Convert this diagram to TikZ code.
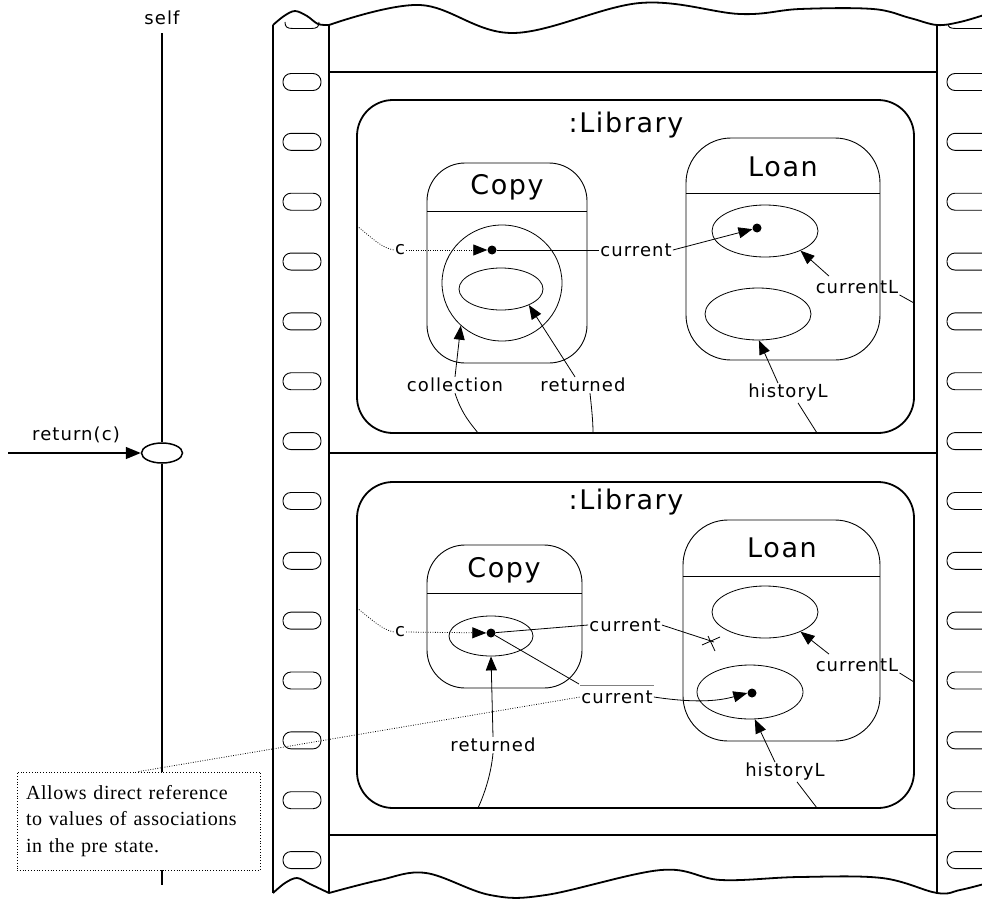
\documentclass[tikz,border=0pt]{standalone}
\usepackage{fontspec}
\usetikzlibrary{arrows.meta,shapes.geometric,calc}
\newfontfamily\hand{DejaVu Sans}[LetterSpace=6]
\newfontfamily\notefont{Liberation Serif}[LetterSpace=3]
\begin{document}
\begin{tikzpicture}[x=1pt,y=-1pt,
  lbl/.style={font=\hand\fontsize{18}{21}\selectfont, inner sep=1pt},
  ttl/.style={font=\hand\fontsize{27}{30}\selectfont, inner sep=0pt},
  ell/.style={draw, ellipse, line width=0.8pt, inner sep=0pt},
  dotn/.style={circle, fill, inner sep=0pt, minimum size=9pt},
  arr/.style={line width=0.8pt, -{Triangle[length=14pt,width=11pt]}},
  thinl/.style={line width=0.8pt},
  dots/.style={line width=0.8pt, dash pattern=on 0.8pt off 1.6pt},
  film/.style={line width=1.8pt},
  libbox/.style={draw, line width=1.8pt, rounded corners=36pt, inner sep=0pt},
  clsbox/.style={draw, line width=0.9pt, rounded corners=38pt, inner sep=0pt},
  hole/.style={line width=0.9pt, rounded corners=8pt}]
\useasboundingbox (0,0) rectangle (982,899);

% ---------- film strip ----------
\draw[film] (273,25) -- (273,893);
\draw[film] (329,25) -- (329,893);
\draw[film] (937,25) -- (937,893);
\draw[film] (329,72) -- (937,72);
\draw[film] (329,453) -- (937,453);
\draw[film] (329,835) -- (937,835);
\draw[film] plot[smooth, tension=0.55] coordinates {(273,25)(284,16)(295,11)(307,16)(318,24)(329,25)};
\draw[film] plot[smooth, tension=0.6] coordinates {(329,25)(420,5)(513,33)(640,3)(740,14)(800,9)(873,9)(910,18)(937,25)(960,22)(984,15)};
\draw[film] plot[smooth, tension=0.55] coordinates {(273,893)(285,883)(297,878)(310,884)(329,893)};
\draw[film] plot[smooth, tension=0.6] coordinates {(329,893)(380,880)(426,873)(490,895)(546,895)(661,870)(721,880)(799,877)(882,878)(937,893)(960,890)(984,884)};
\foreach \k in {0,...,13}{
  \draw[hole] (283,{82+59.85*\k-8.5}) rectangle (321,{82+59.85*\k+8.5});
  \draw[hole] (947,{82+59.85*\k-8.5}) rectangle (995,{82+59.85*\k+8.5});
}
\draw[line width=0.9pt] (285,22) .. controls (285,27) and (287,28.5) .. (293,28.5) -- (311,28.5) .. controls (317,28.5) and (319,27) .. (319,22);
\draw[line width=0.9pt] (948,24) .. controls (948,27) and (950,28.5) .. (956,28.5) -- (982,28.5);

% ---------- lifeline ----------
\node[lbl] (self) at (162,18) {self};
\node[ell, line width=1.5pt, minimum width=41pt, minimum height=20pt] (retc) at (162,453) {};
\coordinate (lifeend) at (162,885);
\coordinate (callstart) at (8,453);
\draw[line width=1.5pt] ([yshift=-7pt]self.south) -- (retc.north);
\draw[line width=1.5pt] (retc.south) -- (lifeend);
\draw[line width=1.5pt, -{Triangle[length=15pt,width=12pt]}] (callstart) -- (retc.west);
\node[lbl] (retlbl) at (76,435) {return(c)};

\node[draw, dotted, fill=white, line width=0.8pt, minimum width=243pt, minimum height=98pt,
      text width=225pt, inner xsep=9pt, align=left,
      font=\notefont\fontsize{20}{26.5}\selectfont] (note) at (138.5,821)
      {Allows direct reference\\to values of associations\\in the pre state.};

% ---------- top frame ----------
\node[libbox, minimum width=557pt, minimum height=333pt] (lib1) at (635.5,266.5) {};
\node[ttl] (libt1) at (626,125) {:Library};
\node[clsbox, minimum width=160pt, minimum height=200pt] (copy1) at (507,263) {};
\draw[thinl] (427,211) -- (587,211);
\node[ttl] (copyt1) at (507,187) {Copy};
\node[ell, minimum width=120pt, minimum height=116pt] (coll1e) at (502,283) {};
\node[ell, minimum width=84pt, minimum height=42pt] (ret1e) at (501,289) {};
\node[dotn] (dot1) at (492,250) {};
\node[clsbox, rounded corners=45pt, minimum width=194pt, minimum height=222pt] (loan1) at (783,249) {};
\draw[thinl] (686,193) -- (880,193);
\node[ttl] (loant1) at (783,167) {Loan};
\node[ell, minimum width=106pt, minimum height=52pt] (lc1e) at (765,231) {};
\node[dotn] (ldot1) at (757,228) {};
\node[ell, minimum width=106pt, minimum height=52pt] (lh1e) at (758,314) {};

\node[lbl] (c1) at (400,250) {c};
\node[lbl] (cur1) at (636,250) {current};
\node[lbl] (curL1) at (857,287) {currentL};
\node[lbl] (histL1) at (788,393) {historyL};
\node[lbl] (coll1) at (455,385) {collection};
\node[lbl] (ret1) at (583,385) {returned};

\coordinate (cin1) at (357,226);
\draw[dots] (cin1) .. controls (370,236) and (381,248) .. (c1.west);
\draw[dots, arr] (c1.east) -- (dot1);
\draw[thinl] (dot1) -- (cur1.west);
\draw[arr] (cur1.east) -- (ldot1);
\draw[arr] (coll1.north) -- (coll1e.226);
\draw[arr] ([xshift=-8pt]ret1.north) -- (ret1e.330);
\draw[arr] ([xshift=-28pt,yshift=3pt]curL1.north) -- (lc1e.331);
\draw[arr] ([xshift=-10pt]histL1.north) -- (lh1e.272);
\coordinate (e1a) at (914,303);
\coordinate (e1b) at (817,433);
\coordinate (e1c) at (478,433);
\coordinate (e1d) at (593,433);
\draw[thinl] (curL1.south east) -- (e1a);
\draw[thinl] ([xshift=10pt]histL1.south) -- (e1b);
\draw[thinl] (coll1.south) .. controls (462,415) and (472,425) .. (e1c);
\draw[thinl] ([xshift=7pt]ret1.south) .. controls (592,412) and (593,422) .. (e1d);

% ---------- bottom frame ----------
\node[libbox, minimum width=557pt, minimum height=326pt] (lib2) at (635.5,645) {};
\node[ttl] (libt2) at (626,502) {:Library};
\node[clsbox, minimum width=155pt, minimum height=143pt] (copy2) at (504.5,616.5) {};
\draw[thinl] (427,593) -- (582,593);
\node[ttl] (copyt2) at (504,570) {Copy};
\node[ell, minimum width=84pt, minimum height=40pt] (ce2) at (491,636) {};
\node[dotn] (dot2) at (491,633) {};
\node[clsbox, rounded corners=45pt, minimum width=197pt, minimum height=221pt] (loan2) at (781.5,630.5) {};
\draw[thinl] (683,576) -- (880,576);
\node[ttl] (loant2) at (782,548) {Loan};
\node[ell, minimum width=106pt, minimum height=52pt] (lc2e) at (765,612) {};
\node[ell, minimum width=106pt, minimum height=54pt] (lh2e) at (750,692) {};
\node[dotn] (ldot2) at (752,693) {};

\node[lbl] (c2) at (400,632) {c};
\node[lbl] (cur2a) at (625,625) {current};
\node[lbl] (cur2b) at (617,697) {current};
\node[lbl] (curL2) at (857,665) {currentL};
\node[lbl] (histL2) at (785,772) {historyL};
\node[lbl] (ret2) at (493,745) {returned};

\coordinate (cin2) at (357,608);
\draw[dots] (cin2) .. controls (370,618) and (382,630) .. (c2.west);
\draw[dots, arr] (c2.east) -- (dot2);
\draw[thinl] (dot2) -- (cur2a.west);
\coordinate (xend) at (714,642);
\draw[thinl] (cur2a.east) -- (xend);
\draw[thinl] (702,645) -- (720,637);
\draw[thinl] (708,636) -- (715,651);
\coordinate (ovl) at (579,684);
\draw[thinl] (dot2) -- (ovl);
\draw[gray, line width=1.2pt] ([yshift=4pt]cur2b.north west) -- ([yshift=4pt]cur2b.north east);
\draw[arr] (cur2b.east) .. controls (700,704) and (722,700) .. (ldot2.west);
\draw[arr] (ret2.north) -- (ce2.270);
\draw[arr] ([xshift=-28pt,yshift=3pt]curL2.north) -- (lc2e.331);
\draw[arr] ([xshift=-10pt]histL2.north) -- (lh2e.280);
\coordinate (e2a) at (914,682);
\coordinate (e2b) at (817,808);
\coordinate (e2c) at (478,808);
\draw[thinl] (curL2.south east) -- (e2a);
\draw[thinl] ([xshift=12pt]histL2.south) -- (e2b);
\draw[thinl] (ret2.south) .. controls (491,775) and (484,795) .. (e2c);

\draw[dots] (note.north) -- (cur2b.west);
\end{tikzpicture}
\end{document}
